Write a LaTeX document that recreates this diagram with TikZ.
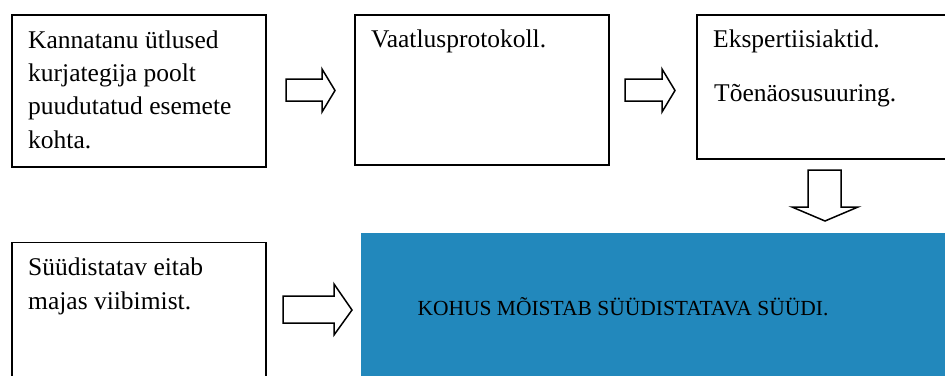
\documentclass[tikz,border=0pt]{standalone}
\usepackage{fontspec}
\setmainfont{Liberation Serif}
\begin{document}
\begin{tikzpicture}[x=1pt,y=-1pt,
  frame/.style={draw=black,line width=1.6pt,fill=white,inner sep=0pt},
  label/.style={inner sep=0pt,anchor=base west,align=left,
    font=\fontsize{25.5}{33.3}\selectfont},
  blockarrow/.style={draw=black,line width=1.5pt,fill=white,line join=miter},
  verdict/.style={fill=verdictblue,inner sep=0pt}]
\definecolor{verdictblue}{RGB}{34,136,188}
\useasboundingbox (0,0) rectangle (945,375);
\clip (0,0) rectangle (945,375);

% boxes of the upper row
\node[frame,anchor=north west,minimum width=254pt,minimum height=152pt] (statement) at (11,14) {};
\node[frame,anchor=north west,minimum width=254pt,minimum height=150pt] (protocol) at (354,14) {};
\node[frame,anchor=north west,minimum width=252pt,minimum height=144pt] (expert) at (696,14) {};

% boxes of the lower row
\node[frame,anchor=north west,minimum width=254pt,minimum height=140pt] (denial) at (11,241.5) {};
\node[verdict,anchor=north west,minimum width=590pt,minimum height=145pt] (verdict) at (361,233) {};

% texts (multi-line nodes sit on the baseline of their last line)
\node[label] (t1) at (28,148) {Kannatanu ütlused\\kurjategija poolt\\puudutatud esemete\\kohta.};
\node[label] (t2) at (371,47) {Vaatlusprotokoll.};
\node[label] (t3) at (713,47) {Ekspertiisiaktid.};
\node[label] (t4) at (714,101) {Tõenäosusuuring.};
\node[label] (t5) at (28,309) {Süüdistatav eitab\\majas viibimist.};
\node[inner sep=0pt,anchor=base,font=\fontsize{21.5}{25}\selectfont] (t6) at (623,315) {KOHUS MÕISTAB SÜÜDISTATAVA SÜÜDI.};

% block arrows
\draw[blockarrow] (286,79) -- (322,79) -- (322,69) -- (335,90.5) -- (322,112) -- (322,101) -- (286,101) -- cycle;
\draw[blockarrow] (625,79) -- (662,79) -- (662,69) -- (675,90.5) -- (662,112) -- (662,101) -- (625,101) -- cycle;
\draw[blockarrow] (808,170) -- (841,170) -- (841,207) -- (858,207) -- (825,221) -- (792,207) -- (808,207) -- cycle;
\draw[blockarrow] (283,296) -- (334,296) -- (334,284) -- (352,310) -- (334,335) -- (334,323) -- (283,323) -- cycle;
\end{tikzpicture}
\end{document}
